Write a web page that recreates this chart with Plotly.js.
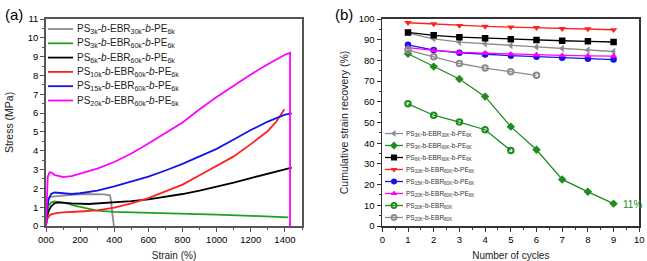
<!DOCTYPE html>
<html>
<head>
<meta charset="utf-8">
<script src="https://cdn.plot.ly/plotly-3.0.1.min.js"></script>
<style>html,body{margin:0;padding:0;background:#fff;}#chart{width:647px;height:261px;}</style>
</head>
<body>
<div id="chart"></div>
<script>
// ---------- Panel (a): stress-strain data ----------
const aNames = [
  "PS<sub>3k</sub>-<i>b</i>-EBR<sub>30k</sub>-<i>b</i>-PE<sub>6k</sub>",
  "PS<sub>3k</sub>-<i>b</i>-EBR<sub>60k</sub>-<i>b</i>-PE<sub>6k</sub>",
  "PS<sub>6k</sub>-<i>b</i>-EBR<sub>60k</sub>-<i>b</i>-PE<sub>6k</sub>",
  "PS<sub>10k</sub>-<i>b</i>-EBR<sub>60k</sub>-<i>b</i>-PE<sub>6k</sub>",
  "PS<sub>15k</sub>-<i>b</i>-EBR<sub>60k</sub>-<i>b</i>-PE<sub>6k</sub>",
  "PS<sub>20k</sub>-<i>b</i>-EBR<sub>60k</sub>-<i>b</i>-PE<sub>6k</sub>"
];
const aColors = ["#8c8c8c", "#22a022", "#000000", "#ff2020", "#1414e6", "#ff00ff"];

const grayX = [0, 5, 10, 20, 40, 80, 150, 220, 300, 340, 375, 382, 388, 393, 398];
const grayY = [0, 0.9, 1.4, 1.55, 1.57, 1.6, 1.65, 1.7, 1.7, 1.68, 1.63, 1.3, 0.7, 0.2, 0];

const greenX = [0, 5, 15, 30, 50, 80, 120, 180, 240, 300, 400, 600, 800, 1000, 1200, 1420];
const greenY = [0, 0.7, 1.1, 1.25, 1.3, 1.27, 1.2, 1.05, 0.92, 0.82, 0.75, 0.71, 0.66, 0.6, 0.54, 0.46];

const blackX = [0, 5, 15, 30, 50, 70, 100, 150, 250, 400, 500, 600, 700, 800, 900, 1000, 1100, 1200, 1300, 1440];
const blackY = [0, 0.4, 0.8, 1.05, 1.2, 1.25, 1.24, 1.2, 1.17, 1.25, 1.32, 1.42, 1.55, 1.7, 1.88, 2.08, 2.3, 2.55, 2.78, 3.1];

const redX = [0, 5, 15, 30, 60, 100, 200, 300, 400, 500, 600, 700, 800, 900, 1000, 1100, 1200, 1300, 1350, 1397];
const redY = [0, 0.3, 0.5, 0.62, 0.68, 0.72, 0.77, 0.83, 0.98, 1.2, 1.48, 1.82, 2.2, 2.7, 3.2, 3.7, 4.35, 5.05, 5.55, 6.2];

const blueX = [0, 5, 15, 30, 50, 100, 150, 200, 300, 400, 500, 600, 700, 800, 900, 1000, 1100, 1200, 1300, 1400, 1440];
const blueY = [0, 0.8, 1.4, 1.7, 1.78, 1.72, 1.7, 1.74, 1.88, 2.1, 2.35, 2.62, 2.95, 3.3, 3.7, 4.1, 4.6, 5.1, 5.55, 5.92, 5.98];

const magX = [0, 5, 10, 20, 30, 50, 100, 150, 200, 300, 400, 500, 600, 700, 800, 900, 1000, 1100, 1200, 1300, 1400, 1430, 1430];
const magY = [0, 1.8, 2.6, 2.85, 2.85, 2.72, 2.6, 2.65, 2.78, 3.05, 3.4, 3.85, 4.38, 4.92, 5.5, 6.2, 6.85, 7.45, 8.05, 8.6, 9.1, 9.2, 0];

const aX = [grayX, greenX, blackX, redX, blueX, magX];
const aY = [grayY, greenY, blackY, redY, blueY, magY];

const aXTickVals = [0, 200, 400, 600, 800, 1000, 1200, 1400];
const aXTickText = ["000", "200", "400", "600", "800", "1000", "1200", "1400"];

// ---------- Panel (b): cumulative strain recovery ----------
const bNames = [
  "PS<sub>3K</sub>-b-EBR<sub>30K</sub>-b-PE<sub>6K</sub>",
  "PS<sub>3K</sub>-b-EBR<sub>60K</sub>-b-PE<sub>6K</sub>",
  "PS<sub>6K</sub>-b-EBR<sub>60K</sub>-b-PE<sub>6K</sub>",
  "PS<sub>10K</sub>-b-EBR<sub>60K</sub>-b-PE<sub>6K</sub>",
  "PS<sub>15K</sub>-b-EBR<sub>60K</sub>-b-PE<sub>6K</sub>",
  "PS<sub>20K</sub>-b-EBR<sub>60K</sub>-b-PE<sub>6K</sub>",
  "PS<sub>20K</sub>-b-EBR<sub>60K</sub>",
  "PS<sub>20K</sub>-b-EBR<sub>80K</sub>"
];
const bColors = ["#8c8c8c", "#1e8c1e", "#000000", "#ff2020", "#1414e6", "#ff00ff", "#1e8c1e", "#8c8c8c"];
const bSymbols = ["triangle-left", "diamond", "square", "triangle-down", "circle", "triangle-up", "circle-open", "circle-open"];

const cycles9 = [1, 2, 3, 4, 5, 6, 7, 8, 9];
const cycles5 = [1, 2, 3, 4, 5];
const cycles6 = [1, 2, 3, 4, 5, 6];
const rec3k30k = [93.2, 90.4, 88.8, 88.0, 87.2, 86.5, 85.7, 85.0, 84.3];
const rec3k60k = [83.2, 77.0, 71.0, 62.5, 48.0, 36.8, 22.5, 16.5, 10.8];
const rec6k60k = [93.5, 92.1, 91.2, 90.7, 90.2, 89.8, 89.5, 89.2, 88.9];
const rec10k60k = [98.2, 97.6, 96.8, 96.4, 96.1, 95.8, 95.3, 95.2, 94.8];
const rec15k60k = [87.5, 85.0, 83.7, 82.9, 82.3, 81.8, 81.3, 80.8, 80.4];
const rec20k60k = [86.2, 84.8, 83.9, 83.5, 83.0, 82.7, 82.4, 82.2, 82.1];
const rec20kEBR60k = [59.0, 53.5, 50.2, 46.5, 36.5];
const rec20kEBR80k = [85.0, 81.8, 78.5, 76.3, 74.5, 72.8];

const bX = [cycles9, cycles9, cycles9, cycles9, cycles9, cycles9, cycles5, cycles6];
const bY = [rec3k30k, rec3k60k, rec6k60k, rec10k60k, rec15k60k, rec20k60k, rec20kEBR60k, rec20kEBR80k];

// ---------- build ----------
const W = 647, H = 261;
const FONT = "Liberation Sans, Arial, sans-serif";
const traces = [];
const annotations = [];

aX.forEach((xs, i) => {
  traces.push({x: xs, y: aY[i], type: "scatter", mode: "lines", name: aNames[i],
    line: {color: aColors[i], width: 1.8}, xaxis: "x", yaxis: "y", showlegend: false});
});
bX.forEach((xs, i) => {
  const open = bSymbols[i].indexOf("open") >= 0;
  traces.push({x: xs, y: bY[i], type: "scatter", mode: "lines+markers", name: bNames[i],
    line: {color: bColors[i], width: 1.3},
    marker: {symbol: bSymbols[i], size: open ? 5.5 : 6.5, color: bColors[i],
      line: {color: bColors[i], width: open ? 2 : 0}},
    xaxis: "x2", yaxis: "y2", showlegend: false});
});

// manual legends in pixel space (overlay axis x3/y3 covers whole page)
const aLeg = {x0: 48, x1: 73, tx: 75, y0: 29, dy: 14.3};
aNames.forEach((n, i) => {
  const y = aLeg.y0 + i * aLeg.dy;
  traces.push({x: [aLeg.x0, aLeg.x1], y: [y, y], type: "scatter", mode: "lines",
    line: {color: aColors[i], width: 1.8}, xaxis: "x3", yaxis: "y3", showlegend: false, hoverinfo: "skip"});
  annotations.push({xref: "x3", yref: "y3", x: aLeg.tx, y: y, text: n, showarrow: false,
    xanchor: "left", yanchor: "middle", font: {family: FONT, size: 10, color: "#222"}});
});
const bLeg = {x0: 385, x1: 403, mx: 394, tx: 404, y0: 133.5, dy: 12};
bNames.forEach((n, i) => {
  const y = bLeg.y0 + i * bLeg.dy;
  const open = bSymbols[i].indexOf("open") >= 0;
  traces.push({x: [bLeg.x0, bLeg.x1], y: [y, y], type: "scatter", mode: "lines",
    line: {color: bColors[i], width: 1.3}, xaxis: "x3", yaxis: "y3", showlegend: false, hoverinfo: "skip"});
  traces.push({x: [bLeg.mx], y: [y], type: "scatter", mode: "markers",
    marker: {symbol: bSymbols[i], size: open ? 5 : 6, color: bColors[i], line: {color: bColors[i], width: open ? 1.8 : 0}},
    xaxis: "x3", yaxis: "y3", showlegend: false, hoverinfo: "skip"});
  annotations.push({xref: "x3", yref: "y3", x: bLeg.tx, y: y + 0.5, text: n, showarrow: false,
    xanchor: "left", yanchor: "middle", font: {family: FONT, size: 6.5, color: "#333"}});
});

annotations.push({xref: "x2", yref: "y2", x: 9.3, y: 10.5, text: "11%", showarrow: false,
  xanchor: "left", yanchor: "middle", font: {family: FONT, size: 10, color: "#1e8c1e"}});
annotations.push({xref: "paper", yref: "paper", x: 3 / W, y: 1 - 4 / H, text: "(a)", showarrow: false,
  xanchor: "left", yanchor: "top", font: {family: FONT, size: 15, color: "#000"}});
annotations.push({xref: "paper", yref: "paper", x: 333 / W, y: 1 - 4 / H, text: "(b)", showarrow: false,
  xanchor: "left", yanchor: "top", font: {family: FONT, size: 15, color: "#000"}});

const plotTop = 19, plotBot = 226;
const yDom = [(H - plotBot) / H, (H - plotTop) / H];
const axCommon = {showgrid: false, zeroline: false, showline: true, mirror: true, linewidth: 1.8,
  ticks: "outside", ticklen: 4, tickwidth: 1, tickfont: {family: FONT, size: 9.5, color: "#000"},
  fixedrange: true};

const layout = {
  width: W, height: H,
  margin: {l: 0, r: 0, t: 0, b: 0},
  paper_bgcolor: "#fff", plot_bgcolor: "rgba(0,0,0,0)",
  font: {family: FONT},
  showlegend: false,
  xaxis: Object.assign({}, axCommon, {domain: [46 / W, 302 / W], range: [0, 1500],
    tickvals: aXTickVals, ticktext: aXTickText, linecolor: "#555", tickcolor: "#555",
    minor: {dtick: 100, tick0: 0, ticks: "outside", ticklen: 2, tickcolor: "#555"},
    title: {text: "Strain (%)", font: {family: FONT, size: 10, color: "#222"}, standoff: 10}, automargin: false, anchor: "y"}),
  yaxis: Object.assign({}, axCommon, {domain: yDom, range: [0, 11], dtick: 1, linecolor: "#555", tickcolor: "#555",
    minor: {dtick: 0.5, ticks: "outside", ticklen: 2, tickcolor: "#555"},
    title: {text: "Stress (MPa)", font: {family: FONT, size: 10.5, color: "#222"}, standoff: 12}, automargin: false, anchor: "x"}),
  xaxis2: Object.assign({}, axCommon, {domain: [382.3 / W, 639.3 / W], range: [0, 10], dtick: 1, linecolor: "#333", tickcolor: "#333",
    minor: {dtick: 0.5, ticks: "outside", ticklen: 2, tickcolor: "#333"},
    title: {text: "Number of cycles", font: {family: FONT, size: 10, color: "#222"}, standoff: 10}, automargin: false, anchor: "y2"}),
  yaxis2: Object.assign({}, axCommon, {domain: yDom, range: [0, 100], dtick: 10, linecolor: "#333", tickcolor: "#333",
    minor: {dtick: 5, ticks: "outside", ticklen: 2, tickcolor: "#333"},
    title: {text: "Cumulative strain recovery (%)", font: {family: FONT, size: 10.5, color: "#222"}, standoff: 8}, automargin: false, anchor: "x2"}),
  xaxis3: {domain: [0, 1], range: [0, W], visible: false, showticklabels: false, ticks: "", fixedrange: true, anchor: "y3"},
  yaxis3: {domain: [0, 1], range: [H, 0], visible: false, showticklabels: false, ticks: "", fixedrange: true, anchor: "x3"},
  annotations: annotations
};

Plotly.newPlot("chart", traces, layout, {displayModeBar: false, staticPlot: true});
</script>
</body>
</html>
